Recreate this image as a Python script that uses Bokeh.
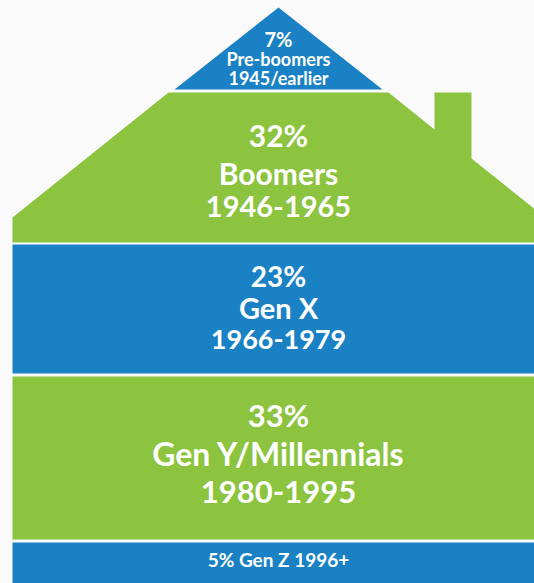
from bokeh.plotting import figure
from bokeh.models import Range1d, ColumnDataSource
from bokeh.embed import file_html
from bokeh.resources import INLINE
from bokeh.core.properties import value

# ---- data ----
percents = [7, 32, 23, 33, 5]
generations = ["Pre-boomers", "Boomers", "Gen X", "Gen Y/Millennials", "Gen Z"]
years = ["1945/earlier", "1946-1965", "1966-1979", "1980-1995", "1996+"]
colors = ["#1a82c4", "#8cc33f", "#1a82c4", "#8cc33f", "#1a82c4"]

# ---- layout (house geometry, pixels) ----
W, H = 534, 583
CX = 278
BG = "#fafafa"

p = figure(width=W, height=H, x_range=Range1d(0, W), y_range=Range1d(H, 0),
           output_backend="svg", toolbar_location=None, min_border=0)
p.axis.visible = False
p.grid.visible = False
p.outline_line_color = None
p.background_fill_color = BG
p.border_fill_color = BG

# roof top triangle (pre-boomers)
p.patch([CX, 382, 174], [7, 89, 89], fill_color=colors[0], line_color=None)
# roof with chimney (boomers)
rx = [168, 388, 434, 434, 471, 471, 546, 546, 12, 12]
ry = [92, 92, 129, 92, 92, 158, 218, 242, 242, 217]
p.patch(rx, ry, fill_color=colors[1], line_color=None)
# floors
p.quad(left=[12, 12, 12], right=[546, 546, 546], top=[244, 376, 542],
       bottom=[373, 539, 600], fill_color=colors[2:], line_color=None)

# ---- labels ----
lines = []
ys = []
sizes = []
for t, y, s in [(f"{percents[0]}%", 38, 20), (generations[0], 58, 18), (years[0], 77, 18)]:
    lines.append(t); ys.append(y); sizes.append(s)
for t, y, s in [(f"{percents[1]}%", 134, 30), (generations[1], 172, 30), (years[1], 206, 29)]:
    lines.append(t); ys.append(y); sizes.append(s)
for t, y, s in [(f"{percents[2]}%", 275, 28), (generations[2], 307, 29), (years[2], 339, 27)]:
    lines.append(t); ys.append(y); sizes.append(s)
for t, y, s in [(f"{percents[3]}%", 414, 31), (generations[3], 453, 32), (years[3], 491, 31)]:
    lines.append(t); ys.append(y); sizes.append(s)
lines.append(f"{percents[4]}% {generations[4]} {years[4]}"); ys.append(559); sizes.append(19)

src = ColumnDataSource(dict(x=[CX] * len(lines), y=ys, text=lines,
                            size=[f"{s}px" for s in sizes]))
p.text(x="x", y="y", text="text", source=src, text_font=value("Lato"),
       text_font_style="bold", text_font_size="size", text_color="white",
       text_align="center", text_baseline="middle")

open("out.html", "w").write(file_html(p, INLINE))
